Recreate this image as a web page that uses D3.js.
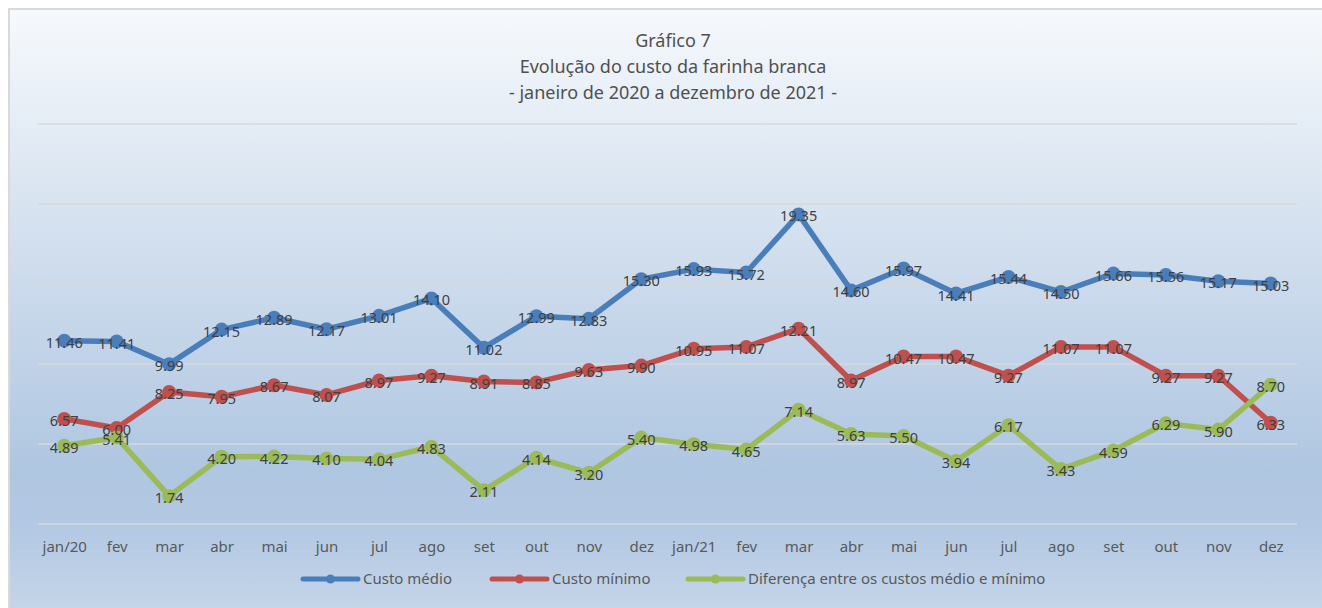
<!DOCTYPE html>
<html>
<head>
<meta charset="utf-8">
<script src="https://cdn.jsdelivr.net/npm/d3@7"></script>
<style>
  body { margin: 0; background: #ffffff; }
  text { font-family: "Noto Sans", sans-serif; }
</style>
</head>
<body>
<div class="container"></div>
<script>
// Months on the x axis
const meses = ["jan/20", "fev", "mar", "abr", "mai", "jun", "jul", "ago", "set", "out", "nov", "dez",
               "jan/21", "fev", "mar", "abr", "mai", "jun", "jul", "ago", "set", "out", "nov", "dez"];

// Series values
const custoMedio = [11.46, 11.41, 9.99, 12.15, 12.89, 12.17, 13.01, 14.10, 11.02, 12.99, 12.83, 15.30,
                    15.93, 15.72, 19.35, 14.60, 15.97, 14.41, 15.44, 14.50, 15.66, 15.56, 15.17, 15.03];
const custoMinimo = [6.57, 6.00, 8.25, 7.95, 8.67, 8.07, 8.97, 9.27, 8.91, 8.85, 9.63, 9.90,
                     10.95, 11.07, 12.21, 8.97, 10.47, 10.47, 9.27, 11.07, 11.07, 9.27, 9.27, 6.33];
const diferenca = [4.89, 5.41, 1.74, 4.20, 4.22, 4.10, 4.04, 4.83, 2.11, 4.14, 3.20, 5.40,
                   4.98, 4.65, 7.14, 5.63, 5.50, 3.94, 6.17, 3.43, 4.59, 6.29, 5.90, 8.70];

const seriesNames = ["Custo médio", "Custo mínimo", "Diferença entre os custos médio e mínimo"];
const gridTicks = [0, 5, 10, 15, 20, 25];
const titleLines = ["Gráfico 7", "Evolução do custo da farinha branca", "- janeiro de 2020 a dezembro de 2021 -"];

// colours
const blue = "#4a7ebb";
const red = "#c0504d";
const green = "#9bbb59";

const width = 1322;
const height = 608;

const svg = d3.select(".container")
              .append("svg")
              .attr("width", width)
              .attr("height", height);

// gradient background of the chart area
const grad = svg.append("defs")
                .append("linearGradient")
                .attr("id", "bg")
                .attr("x1", 0).attr("y1", 0)
                .attr("x2", 0).attr("y2", 1);
grad.append("stop").attr("offset", "0%").attr("stop-color", "#f6f9fc");
grad.append("stop").attr("offset", "74%").attr("stop-color", "#afc6e1");
grad.append("stop").attr("offset", "83%").attr("stop-color", "#b3c8e3");
grad.append("stop").attr("offset", "100%").attr("stop-color", "#cad9eb");

svg.append("rect")
   .attr("x", 9)
   .attr("y", 9)
   .attr("width", 1330)
   .attr("height", 625)
   .attr("fill", "url(#bg)")
   .attr("stroke", "#d9d9d9")
   .attr("stroke-width", 2);

// scales
const x = d3.scalePoint()
            .domain(d3.range(meses.length))
            .range([38, 1297])
            .padding(0.5);

const y = d3.scaleLinear()
            .domain([0, 25])
            .range([524, 124]);

// gridlines
svg.append("g")
   .selectAll("line")
   .data(gridTicks)
   .enter()
   .append("line")
   .attr("x1", 38)
   .attr("x2", 1297)
   .attr("y1", (d) => y(d))
   .attr("y2", (d) => y(d))
   .attr("stroke", "#d9d9d9")
   .attr("stroke-width", 1.5);

// x axis labels
const xAxis = d3.axisBottom(x)
                .tickFormat((i) => meses[i])
                .tickSize(0)
                .tickPadding(17);
const gx = svg.append("g")
              .attr("transform", "translate(0, 524)")
              .call(xAxis);
gx.select(".domain").remove();
gx.selectAll("text")
  .attr("fill", "#595959")
  .style("font-family", "Noto Sans, sans-serif")
  .style("font-size", "15px");

// title
svg.append("g")
   .selectAll("text")
   .data(titleLines)
   .enter()
   .append("text")
   .attr("x", 673)
   .attr("y", (d, i) => 47 + i * 26)
   .attr("text-anchor", "middle")
   .attr("fill", "#505050")
   .style("font-size", "18px")
   .text((d) => d);

const line = d3.line()
               .x((d, i) => x(i))
               .y((d) => y(d));

const drawSeries = (values, color) => {
  const g = svg.append("g");
  g.append("path")
   .datum(values)
   .attr("d", line)
   .attr("fill", "none")
   .attr("stroke", color)
   .attr("stroke-width", 5.5)
   .attr("stroke-linejoin", "round")
   .attr("stroke-linecap", "round");
  g.selectAll("circle")
   .data(values)
   .enter()
   .append("circle")
   .attr("cx", (d, i) => x(i))
   .attr("cy", (d) => y(d))
   .attr("r", 7)
   .attr("fill", color);
  return g;
};

const drawLabels = (values) => {
  svg.append("g")
     .selectAll("text")
     .data(values)
     .enter()
     .append("text")
     .attr("x", (d, i) => x(i))
     .attr("y", (d) => y(d) + 2)
     .attr("dy", "0.35em")
     .attr("text-anchor", "middle")
     .attr("fill", "#404040")
     .style("font-size", "14.5px")
     .text((d) => d.toFixed(2));
};

drawSeries(custoMedio, blue);
drawSeries(custoMinimo, red);
drawSeries(diferenca, green);
drawLabels(custoMedio);
drawLabels(custoMinimo);
drawLabels(diferenca);

// legend
const legendX = [303, 492, 688];
const colors = [blue, red, green];
const legend = svg.append("g")
                  .attr("transform", "translate(0, 579)");
const items = legend.selectAll("g")
                    .data(seriesNames)
                    .enter()
                    .append("g")
                    .attr("transform", (d, i) => "translate(" + legendX[i] + ", 0)");
items.append("line")
     .attr("x1", 0)
     .attr("x2", 55)
     .attr("stroke", (d, i) => colors[i])
     .attr("stroke-width", 5)
     .attr("stroke-linecap", "round");
items.append("circle")
     .attr("cx", 27.5)
     .attr("r", 4.5)
     .attr("fill", (d, i) => colors[i]);
items.append("text")
     .attr("x", 60)
     .attr("dy", "0.35em")
     .attr("fill", "#595959")
     .style("font-size", "15px")
     .text((d) => d);
</script>
</body>
</html>
